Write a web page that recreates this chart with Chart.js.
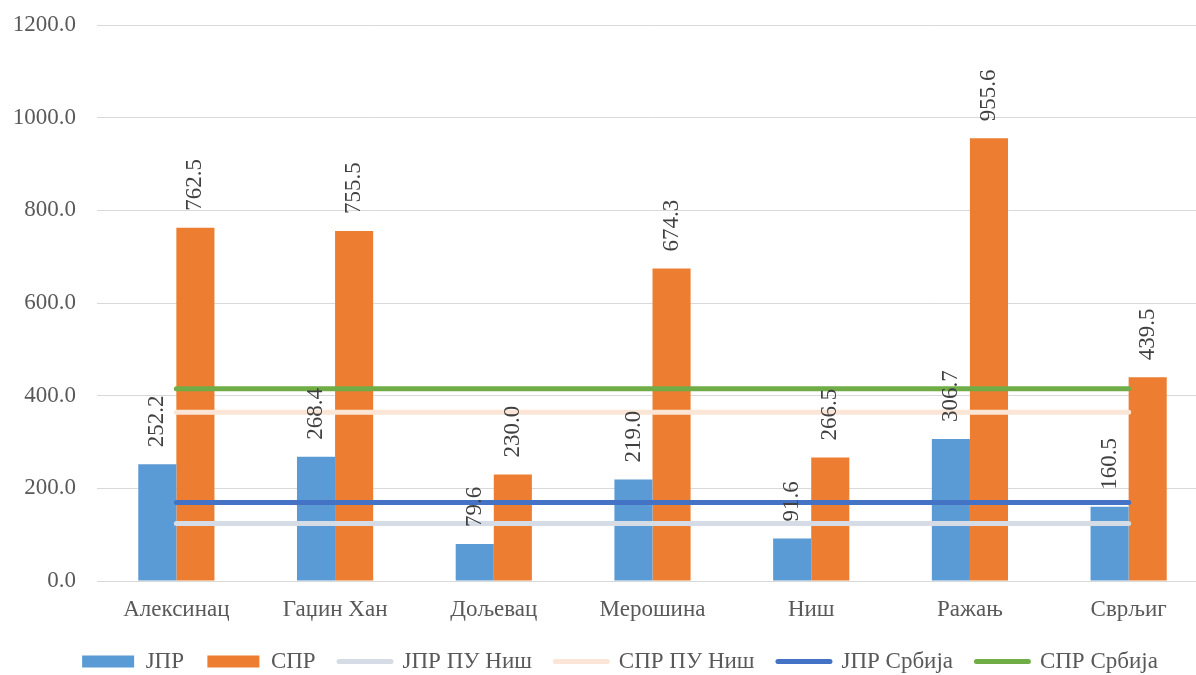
<!DOCTYPE html>
<html>
<head>
<meta charset="utf-8">
<script src="https://cdn.jsdelivr.net/npm/chart.js@4"></script>
<style>
  html, body { margin: 0; padding: 0; background: #fff; overflow: hidden; }
  #wrap { width: 1240px; height: 675px; }
</style>
</head>
<body>
<div id="wrap"><canvas id="c" width="1240" height="675"></canvas></div>
<script>
const categories = ['Алексинац', 'Гаџин Хан', 'Дољевац', 'Мерошина', 'Ниш', 'Ражањ', 'Сврљиг'];
const jpr = [252.2, 268.4, 79.6, 219.0, 91.6, 306.7, 160.5];
const spr = [762.5, 755.5, 230.0, 674.3, 266.5, 955.6, 439.5];
const jprPuNis = [124.1, 124.1, 124.1, 124.1, 124.1, 124.1, 124.1];
const sprPuNis = [364.3, 364.3, 364.3, 364.3, 364.3, 364.3, 364.3];
const jprSrbija = [169.2, 169.2, 169.2, 169.2, 169.2, 169.2, 169.2];
const sprSrbija = [415.0, 415.0, 415.0, 415.0, 415.0, 415.0, 415.0];
const yTicks = [0, 200, 400, 600, 800, 1000, 1200];

const FONT = '"Liberation Serif", "Times New Roman", serif';

const barLabels = {
  id: 'barLabels',
  afterDatasetsDraw(chart) {
    const ctx = chart.ctx;
    ctx.save();
    ctx.font = '23px ' + FONT;
    ctx.fillStyle = '#404040';
    ctx.textAlign = 'left';
    ctx.textBaseline = 'middle';
    chart.data.datasets.forEach((ds, i) => {
      if (ds.type !== 'bar') return;
      const meta = chart.getDatasetMeta(i);
      meta.data.forEach((el, j) => {
        ctx.save();
        ctx.translate(el.x, el.y - 17);
        ctx.rotate(-Math.PI / 2);
        ctx.fillText(ds.data[j].toFixed(1), 0, 0);
        ctx.restore();
      });
    });
    ctx.restore();
  }
};

const lineDs = (label, data, color) => ({
  type: 'line', label, data,
  borderColor: color, backgroundColor: color,
  borderWidth: 5, borderCapStyle: 'round',
  pointRadius: 0, pointHoverRadius: 0, pointStyle: 'line',
  fill: false, order: 0
});

new Chart(document.getElementById('c'), {
  data: {
    labels: categories,
    datasets: [
      { type: 'bar', label: 'ЈПР', data: jpr, backgroundColor: '#5B9BD5', borderWidth: 0, order: 1,
        barPercentage: 1, categoryPercentage: 0.48 },
      { type: 'bar', label: 'СПР', data: spr, backgroundColor: '#ED7D31', borderWidth: 0, order: 1,
        barPercentage: 1, categoryPercentage: 0.48 },
      lineDs('ЈПР ПУ Ниш', jprPuNis, '#D6DCE5'),
      lineDs('СПР ПУ Ниш', sprPuNis, '#FBE5D6'),
      lineDs('ЈПР Србија', jprSrbija, '#4472C4'),
      lineDs('СПР Србија', sprSrbija, '#70AD47')
    ]
  },
  options: {
    responsive: false,
    animation: false,
    layout: { padding: { top: 25, left: 0, right: 0, bottom: -8 } },
    plugins: {
      tooltip: { enabled: false },
      legend: {
        position: 'bottom',
        labels: {
          usePointStyle: true,
          pointStyleWidth: 52,
          boxHeight: 12,
          padding: 23.4,
          color: '#595959',
          font: { family: FONT, size: 23 },
          sort: (a, b) => a.datasetIndex - b.datasetIndex,
          generateLabels(chart) {
            return chart.data.datasets.map((ds, i) => {
              const isLine = ds.type === 'line';
              return {
                text: ds.label,
                datasetIndex: i,
                fillStyle: isLine ? ds.borderColor : ds.backgroundColor,
                strokeStyle: isLine ? ds.borderColor : ds.backgroundColor,
                lineWidth: isLine ? 5 : 0,
                lineCap: 'round',
                pointStyle: isLine ? 'line' : 'rect',
                fontColor: '#595959',
                hidden: false
              };
            });
          }
        }
      }
    },
    scales: {
      x: {
        afterFit: (s) => { s.height = 45.6; },
        grid: { display: false, drawTicks: false },
        border: { display: false },
        ticks: { color: '#595959', font: { family: FONT, size: 23 }, padding: 15, maxRotation: 0, autoSkip: false }
      },
      y: {
        min: 0, max: 1200,
        afterFit: (s) => { s.width = 97; s.paddingTop = 5; s.paddingBottom = 5; },
        afterBuildTicks: (s) => { s.ticks = yTicks.map(v => ({ value: v })); },
        grid: { color: '#D9D9D9', lineWidth: 1, drawTicks: false },
        border: { display: false },
        ticks: { color: '#595959', font: { family: FONT, size: 23 }, padding: 21,
                 callback: (v) => Number(v).toFixed(1) }
      },
      y2: {
        position: 'right', min: 0, max: 1,
        afterFit: (s) => { s.width = 32; s.paddingTop = 0; s.paddingBottom = 0; },
        grid: { display: false },
        border: { display: false },
        ticks: { display: false }
      }
    }
  },
  plugins: [barLabels]
});
</script>
</body>
</html>
